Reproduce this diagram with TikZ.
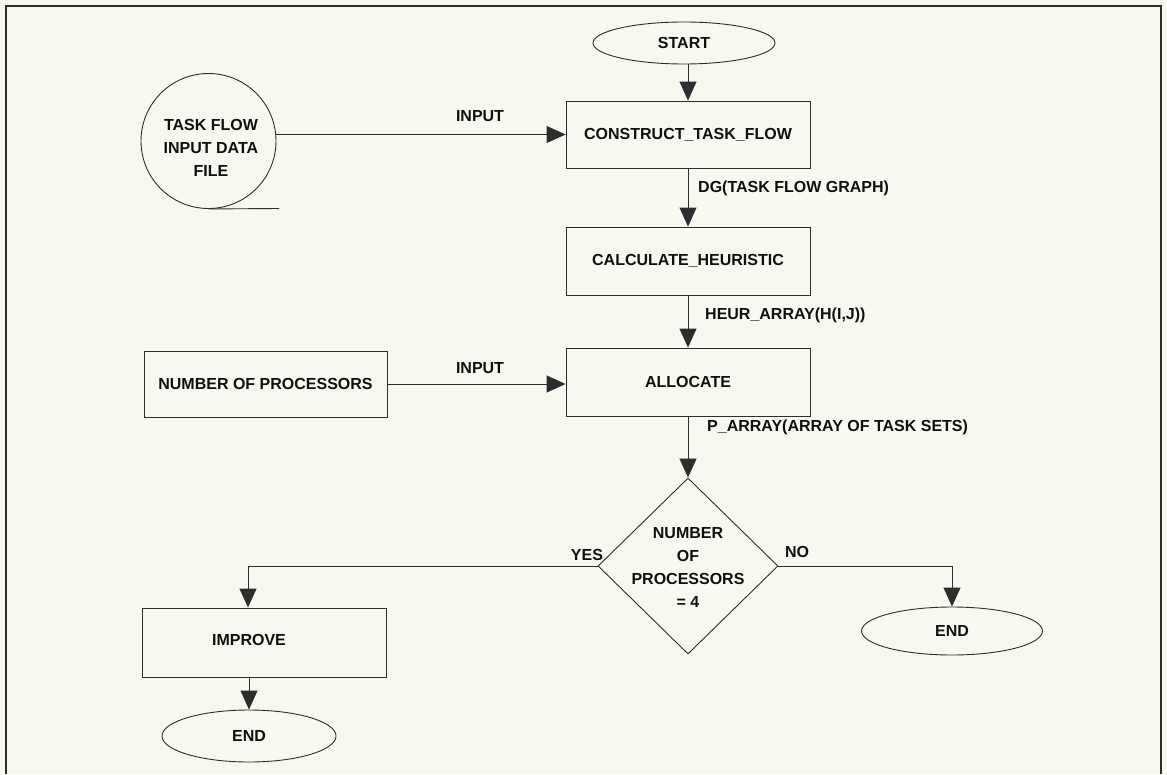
\documentclass[tikz,border=0pt]{standalone}
\usepackage{fontspec}
\setmainfont{Liberation Sans}
\usetikzlibrary{shapes.geometric,arrows.meta}
\definecolor{paper}{RGB}{248,248,241}
\definecolor{ink}{RGB}{45,45,45}
\definecolor{type}{RGB}{15,15,15}

\begin{document}
\begin{tikzpicture}[x=1pt,y=-1pt,color=ink,
  font=\fontsize{16}{23}\selectfont\bfseries,
  every node/.style={text=type},
  line/.style={draw=ink, line width=0.9pt},
  arr/.style={line, -{Triangle[length=19pt,width=17pt]}},
  proc/.style={line, rectangle, inner sep=0pt, minimum width=244pt, minimum height=68pt},
  term/.style={line, ellipse, inner sep=0pt},
  lbl/.style={inner sep=0pt},
]
% page and frame
\fill[paper] (0,0) rectangle (1167,774);
\useasboundingbox (0,0) rectangle (1167,774);
\draw[ink, line width=2pt] (6,774) -- (6,6) -- (1161,6) -- (1161,774);

% main column
\node[term, minimum width=182pt, minimum height=42pt] (start) at (684,43) {START};
\node[proc, minimum height=67pt] (construct) at (688,134.5) {CONSTRUCT\_TASK\_FLOW};
\node[proc] (calc) at (688,261) {CALCULATE\_HEURISTIC};
\node[proc] (alloc) at (688,382) {ALLOCATE};
\node[line, diamond, minimum width=180pt, minimum height=176pt, inner sep=0pt] (dec) at (688,566) {};
\node[lbl, align=center] (dectxt) at (688,567) {NUMBER\\OF\\PROCESSORS\\= 4};

% input data file
\node[line, circle, minimum size=135pt, inner sep=0pt] (file) at (208.5,141) {};
\node[lbl, align=center] (filetxt) at (211,148) {TASK FLOW\\INPUT DATA\\FILE};
\coordinate (filetail) at (279,208.5);
\draw[line] (file.south) -- (filetail);

% processor count
\node[proc, minimum width=243pt, minimum height=66pt] (nproc) at (265.5,384) {NUMBER OF PROCESSORS};

% branches
\node[proc, minimum height=69pt] (improve) at (264,642.5) {};
\node[lbl] (improvetxt) at (249,640) {IMPROVE};
\node[term, minimum width=174pt, minimum height=52pt] (endl) at (249,736) {END};
\node[term, minimum width=181pt, minimum height=48pt] (endr) at (952,631) {END};

% connectors
\draw[arr] (start.south -| construct.north) -- (construct.north);
\draw[arr] (construct) -- (calc);
\draw[arr] (calc) -- (alloc);
\draw[arr] (alloc) -- (dec);
\draw[arr] (construct.west -| file.east) -- (construct.west);
\draw[arr] (nproc.east) -- (nproc.east -| alloc.west);
\coordinate (yesturn) at (248,566);
\coordinate (noturn) at (952,566);
\draw[arr] (dec.west) -- (yesturn) -- (yesturn |- improve.north);
\draw[arr] (dec.east) -- (noturn) -- (endr.north);
\draw[arr] (improve.south -| endl.north) -- (endl.north);

% connector labels
\node[lbl] (in1) at (480,116) {INPUT};
\node[lbl] (in2) at (480,368) {INPUT};
\node[lbl, anchor=west] (dg) at (698,188) {DG(TASK FLOW GRAPH)};
\node[lbl, anchor=west] (heur) at (705,315) {HEUR\_ARRAY(H(I,J))};
\node[lbl, anchor=west] (parr) at (707,427) {P\_ARRAY(ARRAY OF TASK SETS)};
\node[lbl] (yes) at (587,555) {YES};
\node[lbl] (no) at (797,552) {NO};
\end{tikzpicture}
\end{document}
